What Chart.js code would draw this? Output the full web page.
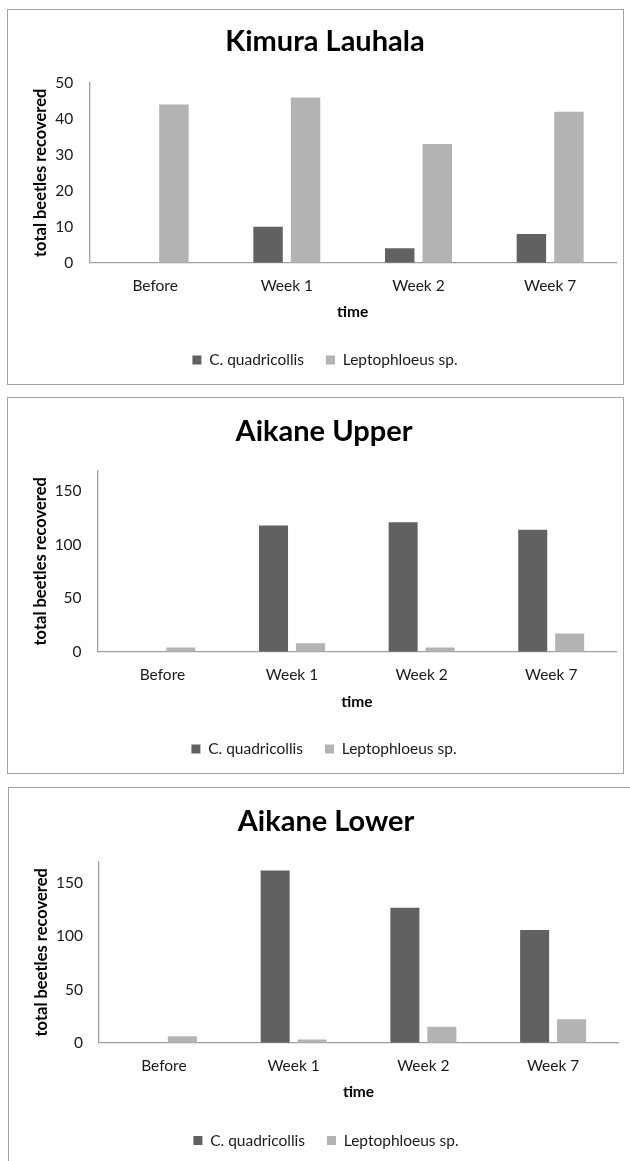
<!DOCTYPE html>
<html>
<head>
<meta charset="utf-8">
<script src="https://cdn.jsdelivr.net/npm/chart.js@4.4.1/dist/chart.umd.min.js"></script>
<style>
  html, body { margin: 0; padding: 0; background: #fff; width: 630px; height: 1161px; overflow: hidden; position: relative; }
  .box { position: absolute; box-sizing: border-box; border: 1px solid #a3a3a3; background: #fff; }
  canvas { position: absolute; }
</style>
</head>
<body>
<script>
// ---- data ----
const categories = ['Before', 'Week 1', 'Week 2', 'Week 7'];
const seriesNames = ['C. quadricollis', 'Leptophloeus sp.'];
const panelTitles = ['Kimura Lauhala', 'Aikane Upper', 'Aikane Lower'];
const kimuraCquad = [0, 10, 4, 8];
const kimuraLepto = [44, 46, 33, 42];
const upperCquad = [0, 118, 121, 114];
const upperLepto = [4, 8, 4, 17];
const lowerCquad = [0, 162, 127, 106];
const lowerLepto = [6, 3, 15, 22];
const yAxisMax = [50, 169, 170];
const yTickStep = [10, 50, 50];
const xAxisTitle = 'time';
const yAxisTitle = 'total beetles recovered';

// ---- styling / layout ----
const FONT = 'Lato, "Open Sans", sans-serif';
const DARK = '#616161', LIGHT = '#b3b3b3', AXIS = '#a0a0a0';
const TITLE_SIZE = 29, TICK_SIZE = 15.5, AXT_SIZE = 15.5, YT_SIZE = 16.5, LEG_SIZE = 15.5, LEG_GAP = 22;

const panels = [
  { box: {x: 7, y: 9, w: 617, h: 376}, plot: {l: 89.3, r: 616, top: 83, bottom: 262.7},
    titleY: 42, tickY: 286, axisTitleY: 312, legendY: 360, yTitleX: 41, legendCx: 325,
    c: kimuraCquad, lp: kimuraLepto },
  { box: {x: 7, y: 397, w: 617, h: 377}, plot: {l: 97.6, r: 616, top: 471, bottom: 651.7},
    titleY: 432, tickY: 675, axisTitleY: 701.7, legendY: 749, yTitleX: 41, legendCx: 324,
    c: upperCquad, lp: upperLepto },
  { box: {x: 8, y: 787, w: 640, h: 400}, plot: {l: 99, r: 618, top: 862, bottom: 1042.7},
    titleY: 822, tickY: 1065.7, axisTitleY: 1091.7, legendY: 1140.5, yTitleX: 41.5, legendCx: 326,
    c: lowerCquad, lp: lowerLepto, open: true }
];

panels.forEach((p, i) => {
  const div = document.createElement('div');
  div.className = 'box';
  Object.assign(div.style, {left: p.box.x + 'px', top: p.box.y + 'px', width: p.box.w + 'px', height: p.box.h + 'px'});
  document.body.appendChild(div);

  const cx0 = p.box.x + 1, cy0 = p.box.y + 1;
  const cw = p.open ? 630 - cx0 : p.box.w - 2;
  const ch = p.open ? 1161 - cy0 : p.box.h - 2;
  const cv = document.createElement('canvas');
  cv.width = cw; cv.height = ch;
  Object.assign(cv.style, {left: cx0 + 'px', top: cy0 + 'px', width: cw + 'px', height: ch + 'px'});
  document.body.appendChild(cv);

  const PR = cx0 + cw - p.plot.r;
  const PL = 2 * (p.legendCx - cx0) - (cw - PR);
  const tLh = TITLE_SIZE * 1.2;
  const tPadTop = p.titleY - cy0 - tLh / 2;
  const tPadBottom = p.plot.top - cy0 - tPadTop - tLh;
  const itemH = Math.max(LEG_SIZE, 9);
  const legendH = itemH + LEG_GAP + 10;
  const legendTop = p.legendY - cy0 - LEG_GAP - itemH / 2;
  const PB = ch - legendTop - legendH;
  const xAxisH = legendTop - (p.plot.bottom - cy0);
  const tickLh = TICK_SIZE * 1.2, axLh = AXT_SIZE * 1.2, ytLh = YT_SIZE * 1.2;
  const xTickPad = p.tickY - p.plot.bottom - tickLh / 2;
  const xTitlePadBottom = legendTop - (p.axisTitleY - cy0) - axLh / 2;
  const yAxisW = p.plot.l - cx0 - PL;
  const yTitlePadTop = p.yTitleX - cx0 - PL - ytLh / 2;
  const step = yTickStep[i];

  new Chart(cv, {
    type: 'bar',
    data: {
      labels: categories,
      datasets: [
        { label: seriesNames[0], data: p.c, backgroundColor: DARK, borderWidth: 0 },
        { label: seriesNames[1], data: p.lp, backgroundColor: LIGHT, borderWidth: 0 }
      ]
    },
    options: {
      responsive: false,
      animation: false,
      devicePixelRatio: 1,
      categoryPercentage: 0.57,
      barPercentage: 0.785,
      layout: { padding: { left: PL, right: PR, top: 0, bottom: PB } },
      plugins: {
        tooltip: { enabled: false },
        title: {
          display: true, text: panelTitles[i], color: '#000',
          font: { family: FONT, size: TITLE_SIZE, weight: 'bold', lineHeight: 1.2 },
          padding: { top: tPadTop, bottom: tPadBottom }
        },
        legend: {
          display: true, position: 'bottom',
          labels: {
            color: '#1a1a1a', boxWidth: 9, boxHeight: 9, padding: LEG_GAP,
            font: { family: FONT, size: LEG_SIZE }
          }
        }
      },
      scales: {
        x: {
          grid: { display: false, drawTicks: false },
          border: { display: true, color: AXIS, width: 1.3 },
          ticks: { color: '#1a1a1a', padding: xTickPad, font: { family: FONT, size: TICK_SIZE, lineHeight: 1.2 } },
          title: { display: true, text: xAxisTitle, color: '#000',
                   font: { family: FONT, size: AXT_SIZE, weight: 'bold', lineHeight: 1.2 },
                   padding: { top: 0, bottom: xTitlePadBottom } },
          afterFit: s => { s.height = xAxisH; }
        },
        y: {
          min: 0, max: yAxisMax[i],
          grid: { display: false, drawTicks: false },
          border: { display: true, color: AXIS, width: 1.3 },
          ticks: { stepSize: step, color: '#1a1a1a', padding: 16, font: { family: FONT, size: TICK_SIZE, lineHeight: 1.2 } },
          afterBuildTicks: s => { s.ticks = s.ticks.filter(t => Math.abs(t.value / step - Math.round(t.value / step)) < 1e-9); },
          title: { display: true, text: yAxisTitle, color: '#000',
                   font: { family: FONT, size: YT_SIZE, weight: 'bold', lineHeight: 1.2 },
                   padding: { top: yTitlePadTop, bottom: 0 } },
          afterFit: s => { s.width = yAxisW; }
        }
      }
    }
  });
});
</script>
</body>
</html>
